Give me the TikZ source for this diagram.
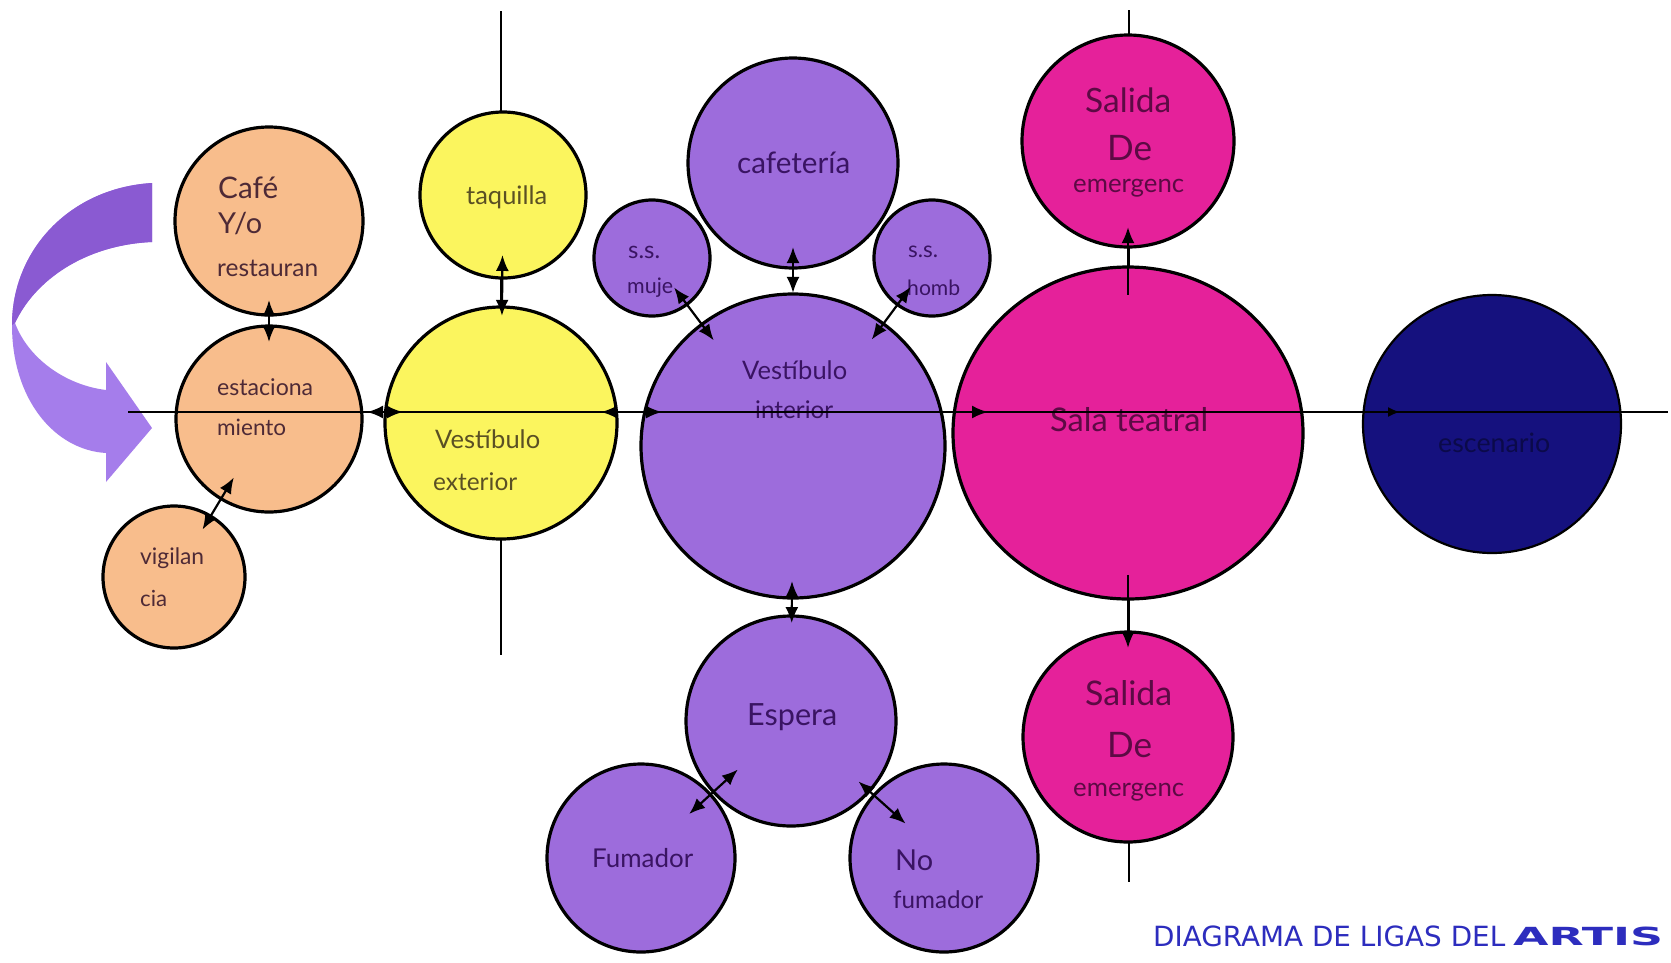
\documentclass[tikz,border=0pt]{standalone}
\usepackage{fontspec}
\setmainfont{Lato}
\newfontfamily\titlefont{DejaVu Sans}
\usetikzlibrary{arrows.meta,calc,shapes.geometric}

\definecolor{roomPeach}{HTML}{F8BD8C}
\definecolor{roomLemon}{HTML}{FBF55E}
\definecolor{roomLilac}{HTML}{9D6CDC}
\definecolor{roomPink}{HTML}{E5219A}
\definecolor{roomNavy}{HTML}{15117E}
\definecolor{txtPeach}{HTML}{4E2A36}
\definecolor{txtLemon}{HTML}{5A5024}
\definecolor{txtLilac}{HTML}{3A1463}
\definecolor{txtPink}{HTML}{5C0A44}
\definecolor{txtNavy}{HTML}{0B0A4A}
\definecolor{arrowLight}{HTML}{A57DEB}
\definecolor{arrowDark}{HTML}{8A5AD2}
\definecolor{titleBlue}{HTML}{2D2DBE}

% scale a text to an exact width
\newcommand{\fitw}[2]{\resizebox{#1pt}{!}{#2}}

\begin{document}
\begin{tikzpicture}[x=1pt,y=-1pt,
  room/.style={circle, draw=black, line width=3.2pt, inner sep=0pt, outer sep=0pt},
  guide/.style={line width=1.8pt},
  link/.style={line width=2.2pt, {Latex[length=16pt,width=13pt]}-{Latex[length=16pt,width=13pt]}},
  flow/.style={line width=2.2pt, -{Latex[length=16pt,width=13pt]}},
  lbl/.style={inner sep=0pt, anchor=west, font=\fontsize{20}{24}\selectfont}]
\useasboundingbox (0,0) rectangle (1671,962);
\fill[white] (0,0) rectangle (1671,962);

% entrance arrow
\fill[arrowLight] (152,183) .. controls (70,188) and (12,250) .. (12,325)
  .. controls (12,400) and (55,450) .. (106,453) -- (106,482) -- (152,428) -- (106,362) -- (106,390)
  .. controls (65,385) and (28,358) .. (15,323)
  .. controls (35,280) and (85,245) .. (152,242) -- cycle;
\fill[arrowDark] (152,183) .. controls (70,188) and (12,250) .. (12,325) -- (15,323)
  .. controls (35,280) and (85,245) .. (152,242) -- cycle;

% guide lines
\coordinate (gA1) at (501,11);
\coordinate (gA2) at (501,655);
\coordinate (gB1) at (1129,10);
\coordinate (gB2) at (1129,882);
\coordinate (axL) at (128,412);
\coordinate (axR) at (1668,412);
\draw[guide] (gA1) -- (gA2);
\draw[guide] (gB1) -- (gB2);

% rooms
\node[room, fill=roomPeach, minimum size=188pt] (cafe) at (269,221) {};
\node[room, fill=roomPeach, minimum size=186pt] (estac) at (269,419) {};
\node[room, fill=roomPeach, minimum size=142pt] (vigil) at (174,577) {};
\node[room, fill=roomLemon, minimum size=166pt] (taq) at (503,195) {};
\node[room, fill=roomLemon, minimum size=232pt] (vext) at (501,423) {};
\node[room, fill=roomLilac, minimum size=210pt] (cafet) at (793,163) {};
\node[room, fill=roomLilac, minimum size=116pt] (muje) at (652,258) {};
\node[room, fill=roomLilac, minimum size=116pt] (homb) at (932,258) {};
\node[room, fill=roomLilac, minimum size=304pt] (vint) at (793,446) {};
\node[room, fill=roomLilac, minimum size=210pt] (espera) at (791,721) {};
\node[room, fill=roomLilac, minimum size=188pt] (fum) at (641,858) {};
\node[room, fill=roomLilac, minimum size=188pt] (nofum) at (944,858) {};
\node[room, ellipse, fill=roomPink, minimum width=350pt, minimum height=332pt] (sala) at (1128,433) {};
\node[room, fill=roomPink, minimum size=212pt] (saltop) at (1128,141) {};
\node[room, fill=roomPink, minimum size=210pt] (salbot) at (1128,737) {};
\node[room, line width=2.2pt, fill=roomNavy, minimum size=258pt] (escen) at (1492,424) {};

% labels
\node[lbl, text=txtPeach] (tCafe1) at (218,188) {\fitw{60}{Café}};
\node[lbl, text=txtPeach] (tCafe2) at (218,224) {\fitw{44}{Y/o}};
\node[lbl, text=txtPeach] (tCafe3) at (217,268) {\fitw{101}{restauran}};
\node[lbl, text=txtPeach] (tEst1) at (217,387) {\fitw{96}{estaciona}};
\node[lbl, text=txtPeach] (tEst2) at (217,427) {\fitw{69}{miento}};
\node[lbl, text=txtPeach] (tVig1) at (140,558) {\fitw{64}{vigilan}};
\node[lbl, text=txtPeach] (tVig2) at (140,598) {\fitw{27}{cia}};
\node[lbl, text=txtLemon] (tTaq) at (466,197) {\fitw{81}{taquilla}};
\node[lbl, text=txtLemon] (tVext1) at (435,439) {\fitw{105}{Vestíbulo}};
\node[lbl, text=txtLemon] (tVext2) at (433,482) {\fitw{84}{exterior}};
\node[lbl, text=txtLilac] (tCafet) at (737,163) {\fitw{113}{cafetería}};
\node[lbl, text=txtLilac] (tMuje1) at (628,252) {\fitw{32}{s.s.}};
\node[lbl, text=txtLilac] (tMuje2) at (627,288) {\fitw{46}{muje}};
\node[lbl, text=txtLilac] (tHomb1) at (908,252) {\fitw{30}{s.s.}};
\node[lbl, text=txtLilac] (tHomb2) at (907,288) {\fitw{53}{homb}};
\node[lbl, text=txtLilac] (tVint1) at (742,370) {\fitw{105}{Vestíbulo}};
\node[lbl, text=txtLilac] (tVint2) at (755,410) {\fitw{78}{interior}};
\node[lbl, text=txtLilac] (tEsp) at (747,717) {\fitw{90}{Espera}};
\node[lbl, text=txtLilac] (tFum) at (592,858) {\fitw{101}{Fumador}};
\node[lbl, text=txtLilac] (tNo1) at (895,860) {\fitw{38}{No}};
\node[lbl, text=txtLilac] (tNo2) at (893,900) {\fitw{90}{fumador}};
\node[lbl, text=txtPink] (tSala) at (1050,420) {\fitw{158}{Sala teatral}};
\node[lbl, text=txtPink] (tST1) at (1085,100) {\fitw{86}{Salida}};
\node[lbl, text=txtPink] (tST2) at (1107,148) {\fitw{45}{De}};
\node[lbl, text=txtPink] (tST3) at (1073,188) {\fitw{111}{emergenc}};
\node[lbl, text=txtPink] (tSB1) at (1085,693) {\fitw{87}{Salida}};
\node[lbl, text=txtPink] (tSB2) at (1107,745) {\fitw{45}{De}};
\node[lbl, text=txtPink] (tSB3) at (1073,792) {\fitw{111}{emergenc}};
\node[lbl, text=txtNavy] (tEsc) at (1438,443) {\fitw{112}{escenario}};

% main axis
\draw[guide] (axL) -- (axR);

% links between rooms
\draw[link] ($(cafe)!0.399!(estac)$) -- ($(cafe)!0.611!(estac)$);
\draw[link] ($(vigil)!0.30!(estac)$) -- ($(vigil)!0.63!(estac)$);
\draw[link] ($(taq)!0.263!(vext)$) -- ($(taq)!0.53!(vext)$);
\draw[link] ($(cafet)!0.297!(vint)$) -- ($(cafet)!0.459!(vint)$);
\draw[link] ($(muje)!0.157!(vint)$) -- ($(muje)!0.438!(vint)$);
\draw[link] ($(homb)!0.153!(vint)$) -- ($(homb)!0.434!(vint)$);
\draw[link] ($(vint)!0.491!(espera)$) -- ($(vint)!0.644!(espera)$);
\draw[link] ($(espera)!0.354!(fum)$) -- ($(espera)!0.679!(fum)$);
\draw[link] ($(espera)!0.441!(nofum)$) -- ($(espera)!0.749!(nofum)$);
\draw[flow] ($(sala)!0.473!(saltop)$) -- ($(sala)!0.705!(saltop)$);
\draw[flow] ($(sala)!0.467!(salbot)$) -- ($(sala)!0.707!(salbot)$);

% links along the main axis
\draw[link, shorten <=5pt, shorten >=-18pt] (estac.east |- axL) -- (vext.west |- axL);
\draw[link, shorten <=-16pt, shorten >=-21pt] (vext.east |- axL) -- (vint.west |- axL);
\draw[flow, shorten >=-35pt] (vint.east |- axL) -- (sala.west |- axL);
\draw[line width=2pt, -{Latex[length=12pt,width=10pt]}, shorten >=-37pt] (sala.east |- axL) -- (escen.west |- axL);

% title
\node[lbl, text=titleBlue, font=\titlefont] (title) at (1153,936) {\fitw{352}{DIAGRAMA DE LIGAS DEL}};
\node[lbl, text=titleBlue, font=\titlefont\bfseries] (titleB) at (1513,936) {\resizebox{150pt}{18.5pt}{ARTIS}};
\end{tikzpicture}
\end{document}
